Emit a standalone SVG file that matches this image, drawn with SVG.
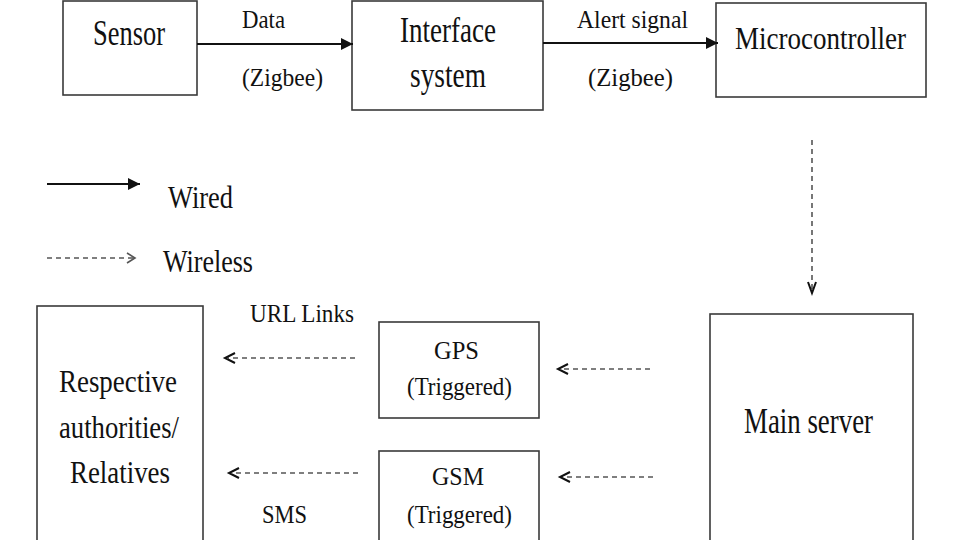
<svg xmlns="http://www.w3.org/2000/svg" width="960" height="540" viewBox="0 0 960 540">
<defs>
<style>
.box{fill:#fff;stroke:#3a3a3a;stroke-width:1.6}
.t{font-family:"Liberation Serif","Times New Roman",serif;fill:#111;text-anchor:middle}
.big{font-size:36px}
.mid{font-size:32px}
.sm{font-size:26px}
.wired{stroke:#111;stroke-width:2;fill:none}
.wl{stroke:#555;stroke-width:1.6;fill:none;stroke-dasharray:5 4}
.chev{stroke:#111;stroke-width:2;fill:none}
</style>
<marker id="solid" markerUnits="userSpaceOnUse" markerWidth="14" markerHeight="14" refX="12" refY="7" orient="auto">
<path d="M0,1 L12,7 L0,13 Z" fill="#111"/>
</marker>
</defs>
<rect width="960" height="540" fill="#fff"/>

<g id="sensor">
<rect class="box" x="63" y="1" width="134" height="94"/>
<text class="t big" x="129" y="45" textLength="72" lengthAdjust="spacingAndGlyphs">Sensor</text>
</g>
<g id="interface">
<rect class="box" x="352" y="1" width="191" height="109"/>
<text class="t big" x="448" y="42" textLength="96" lengthAdjust="spacingAndGlyphs">Interface</text>
<text class="t big" x="448" y="87" textLength="76" lengthAdjust="spacingAndGlyphs">system</text>
</g>
<g id="microcontroller">
<rect class="box" x="716" y="3" width="210" height="94"/>
<text class="t" style="font-size:32px" x="820.5" y="49" textLength="171" lengthAdjust="spacingAndGlyphs">Microcontroller</text>
</g>
<g id="main-server">
<rect class="box" x="710" y="314" width="203" height="240"/>
<text class="t big" x="808.5" y="433" textLength="129" lengthAdjust="spacingAndGlyphs">Main server</text>
</g>
<g id="gps">
<rect class="box" x="379" y="322" width="160" height="96"/>
<text class="t sm" x="456.5" y="359" textLength="45" lengthAdjust="spacingAndGlyphs">GPS</text>
<text class="t sm" x="459.5" y="395" textLength="105" lengthAdjust="spacingAndGlyphs">(Triggered)</text>
</g>
<g id="gsm">
<rect class="box" x="379" y="451" width="160" height="100"/>
<text class="t sm" x="458" y="485" textLength="52" lengthAdjust="spacingAndGlyphs">GSM</text>
<text class="t sm" x="459.5" y="523" textLength="105" lengthAdjust="spacingAndGlyphs">(Triggered)</text>
</g>
<g id="authorities">
<rect class="box" x="37" y="306" width="166" height="250"/>
<text class="t mid" x="118" y="392" textLength="118" lengthAdjust="spacingAndGlyphs">Respective</text>
<text class="t mid" x="119" y="438" textLength="120" lengthAdjust="spacingAndGlyphs">authorities/</text>
<text class="t mid" x="120" y="483" textLength="100" lengthAdjust="spacingAndGlyphs">Relatives</text>
</g>

<g id="connectors">
<line class="wired" x1="197" y1="44" x2="353" y2="44" marker-end="url(#solid)"/>
<line class="wired" x1="543" y1="43" x2="718" y2="43" marker-end="url(#solid)"/>
<line class="wl" x1="812" y1="140" x2="812" y2="290"/>
<polyline class="chev" points="808,282 812,293 816,282"/>
<line class="wl" x1="650" y1="369" x2="560" y2="369"/>
<polyline class="chev" points="568,364 558,369 568,374"/>
<line class="wl" x1="653" y1="477" x2="562" y2="477"/>
<polyline class="chev" points="570,472 560,477 570,482"/>
<line class="wl" x1="355" y1="358" x2="228" y2="358"/>
<polyline class="chev" points="235,353 225,358 235,363"/>
<line class="wl" x1="358" y1="473" x2="232" y2="473"/>
<polyline class="chev" points="239,468 229,473 239,478"/>
</g>

<g id="labels">
<text class="t sm" x="263.5" y="28" textLength="43" lengthAdjust="spacingAndGlyphs">Data</text>
<text class="t sm" x="282.5" y="86" textLength="81" lengthAdjust="spacingAndGlyphs">(Zigbee)</text>
<text class="t sm" x="632.5" y="28" textLength="111" lengthAdjust="spacingAndGlyphs">Alert signal</text>
<text class="t sm" x="630.5" y="86" textLength="85" lengthAdjust="spacingAndGlyphs">(Zigbee)</text>
<text class="t sm" x="302" y="322" textLength="104" lengthAdjust="spacingAndGlyphs">URL Links</text>
<text class="t sm" x="284.5" y="523" textLength="45" lengthAdjust="spacingAndGlyphs">SMS</text>
</g>

<g id="legend">
<line class="wired" x1="47" y1="184" x2="140" y2="184" marker-end="url(#solid)"/>
<text class="t mid" x="168" y="208" style="text-anchor:start" textLength="65" lengthAdjust="spacingAndGlyphs">Wired</text>
<line class="wl" x1="47" y1="258" x2="133" y2="258"/>
<polyline class="chev" style="stroke:#555;stroke-width:1.6" points="127,253 135,258 127,263"/>
<text class="t mid" x="163" y="272" style="text-anchor:start" textLength="90" lengthAdjust="spacingAndGlyphs">Wireless</text>
</g>
</svg>
